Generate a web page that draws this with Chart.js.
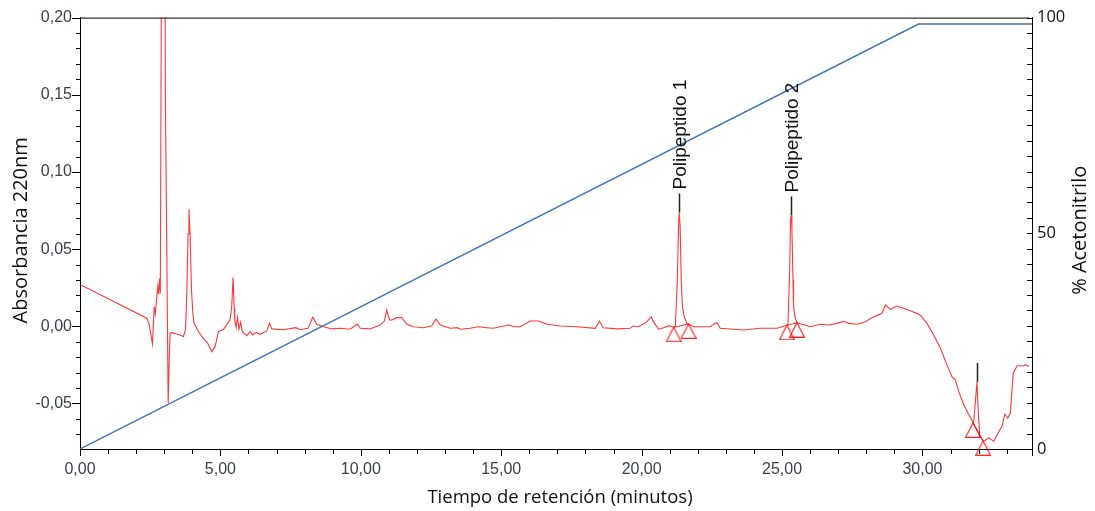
<!DOCTYPE html>
<html lang="es">
<head>
<meta charset="UTF-8">
<title>Cromatograma HPLC</title>
<script src="https://cdn.jsdelivr.net/npm/chart.js"></script>
<style>
  html, body { margin: 0; padding: 0; background: #fff; }
  #wrap { width: 1095px; height: 511px; position: relative; }
</style>
</head>
<body>
<div id="wrap"><canvas id="chart"></canvas></div>
<script>
// trace (minutes, AU)
const retentionTimes = [
  0.00, 2.38, 2.47, 2.53, 2.58, 2.62, 2.64, 2.68, 2.77, 2.80, 2.83, 2.86,
  2.97, 3.04, 3.14, 3.18, 3.21, 3.27, 3.44, 3.60, 3.68, 3.76, 3.80, 3.85,
  3.88, 3.92, 3.97, 4.02, 4.06, 4.22, 4.39, 4.55, 4.69, 4.81, 4.93, 5.11,
  5.34, 5.40, 5.45, 5.49, 5.51, 5.56, 5.61, 5.66, 5.72, 5.78, 5.94, 6.06,
  6.15, 6.27, 6.41, 6.65, 6.75, 6.83, 7.24, 7.68, 7.84, 8.12, 8.29, 8.43,
  8.67, 8.97, 9.26, 9.62, 9.88, 9.98, 10.33, 10.69, 10.84, 10.92, 11.02, 11.10,
  11.28, 11.46, 11.64, 11.87, 12.23, 12.53, 12.68, 12.83, 13.18, 13.44, 13.54, 13.89,
  14.19, 14.49, 14.72, 14.96, 15.29, 15.44, 15.68, 16.03, 16.33, 16.63, 17.10, 17.69,
  18.35, 18.50, 18.63, 19.12, 19.59, 19.69, 19.89, 20.19, 20.34, 20.42, 20.60, 20.78,
  20.96, 21.14, 21.20, 21.27, 21.32, 21.34, 21.37, 21.41, 21.45, 21.52, 21.61, 21.85,
  22.44, 22.62, 22.68, 22.80, 23.63, 24.22, 24.82, 25.12, 25.21, 25.27, 25.30, 25.32,
  25.35, 25.39, 25.41, 25.46, 25.53, 26.01, 26.36, 26.66, 26.96, 27.19, 27.37, 27.67,
  27.97, 28.20, 28.56, 28.68, 28.86, 29.09, 29.27, 29.57, 29.92, 30.16, 30.46, 30.64,
  30.87, 31.05, 31.17, 31.29, 31.47, 31.65, 31.82, 31.88, 31.94, 32.00, 32.04, 32.18,
  32.36, 32.54, 32.72, 32.83, 32.93, 33.04, 33.13, 33.23, 33.37, 33.61, 33.67, 33.79
];
const absorbance = [
  0.0271, 0.0052, 0.0008, -0.0060, -0.0114, 0.0040, 0.0127, 0.0080, 0.0256, 0.0210, 0.0310, 0.0213,
  0.6000, 0.1500, -0.0497, -0.0200, -0.0045, -0.0041, -0.0050, -0.0060, -0.0067, -0.0020, 0.0200, 0.0600,
  0.0758, 0.0600, 0.0235, 0.0080, 0.0019, -0.0035, -0.0078, -0.0110, -0.0164, -0.0132, -0.0035, -0.0019,
  0.0041, 0.0120, 0.0316, 0.0120, 0.0040, -0.0006, 0.0058, -0.0019, 0.0026, -0.0035, -0.0061, -0.0035,
  -0.0056, -0.0039, -0.0052, -0.0030, 0.0019, -0.0017, -0.0022, -0.0009, -0.0022, -0.0013, 0.0058, 0.0013,
  -0.0003, -0.0017, -0.0013, -0.0019, 0.0015, -0.0013, -0.0017, 0.0008, 0.0034, 0.0105, 0.0041, 0.0041,
  0.0056, 0.0056, 0.0013, -0.0003, -0.0009, 0.0004, 0.0047, 0.0008, -0.0013, -0.0009, -0.0019, -0.0013,
  -0.0003, -0.0009, -0.0013, -0.0003, 0.0008, -0.0003, -0.0003, 0.0034, 0.0034, 0.0013, 0.0002, -0.0003,
  -0.0013, 0.0034, -0.0009, -0.0017, -0.0013, 0.0002, -0.0003, 0.0030, 0.0062, 0.0030, -0.0019, -0.0009,
  0.0004, -0.0006, 0.0000, 0.0300, 0.0680, 0.0737, 0.0650, 0.0300, 0.0130, 0.0060, 0.0020, -0.0003,
  -0.0003, 0.0019, 0.0023, -0.0013, -0.0024, -0.0013, -0.0013, 0.0004, 0.0010, 0.0350, 0.0680, 0.0718,
  0.0640, 0.0300, 0.0127, 0.0060, 0.0023, -0.0003, 0.0013, 0.0008, 0.0019, 0.0032, 0.0019, 0.0013,
  0.0030, 0.0056, 0.0084, 0.0138, 0.0110, 0.0131, 0.0120, 0.0101, 0.0073, 0.0019, -0.0078, -0.0142,
  -0.0250, -0.0326, -0.0347, -0.0422, -0.0508, -0.0573, -0.0626, -0.0500, -0.0360, -0.0600, -0.0713, -0.0745,
  -0.0723, -0.0745, -0.0681, -0.0649, -0.0569, -0.0594, -0.0562, -0.0304, -0.0256, -0.0256, -0.0248, -0.0261
];

// acetonitrile gradient (%)
const gradientTimes = [0, 29.86, 33.9];
const gradientPct = [0, 98.5, 98.5];

// integration start/end markers, in pairs
const markerTimes = [21.14, 21.67, 25.17, 25.53, 31.80, 32.16];
const markerValues = [-0.0006, 0.0015, 0.0006, 0.0023, -0.0626, -0.0742];

// labelled peaks
const peakTimes = [21.34, 25.32, 31.94];
const peakLabels = ['Polipeptido 1', 'Polipeptido 2', ''];

const xMajorTicks = [0, 5, 10, 15, 20, 25, 30];
const yMajorTicks = [-0.05, 0, 0.05, 0.10, 0.15, 0.20];
const y2MajorTicks = [0, 50, 100];

const xTitle = 'Tiempo de retención (minutos)';
const yTitle = 'Absorbancia 220nm';
const y2Title = '% Acetonitrilo';

const TICK_FONT = { family: '"Liberation Sans", Arial, sans-serif', size: 16 };
const TICK_COLOR = '#3a3f4a';

const comma = v => v.toFixed(2).replace('.', ',');
const near = (list, v, eps) => list.some(m => Math.abs(m - v) < eps);

// triangle marker image, apex at the centre of the canvas
function triangleImage() {
  const c = document.createElement('canvas');
  c.width = 16; c.height = 30;
  const g = c.getContext('2d');
  g.strokeStyle = 'rgba(255,0,0,0.85)';
  g.lineWidth = 1.2;
  g.beginPath();
  g.moveTo(8, 15);
  g.lineTo(15.4, 29.3);
  g.lineTo(0.6, 29.3);
  g.closePath();
  g.stroke();
  return c;
}

const traceData = retentionTimes.map((t, i) => ({ x: t, y: absorbance[i] }));
const gradientData = gradientTimes.map((t, i) => ({ x: t, y: gradientPct[i] }));
const markerData = [];
for (let i = 0; i < markerTimes.length; i += 2) {
  if (i > 0) markerData.push({ x: markerTimes[i] - 0.01, y: null });
  markerData.push({ x: markerTimes[i], y: markerValues[i] });
  markerData.push({ x: markerTimes[i + 1], y: markerValues[i + 1] });
}

const frame = {
  id: 'frame',
  afterDraw(chart) {
    const { ctx, chartArea: a } = chart;
    const { x, y, y2 } = chart.scales;
    ctx.save();
    ctx.strokeStyle = '#000';
    ctx.lineWidth = 1;
    ctx.beginPath();
    ctx.moveTo(a.left, a.top + 0.5);
    ctx.lineTo(a.right - 3, a.top + 0.5);
    ctx.moveTo(a.right + 0.5, a.bottom);
    ctx.lineTo(a.right + 0.5, a.bottom + 7);
    y.ticks.forEach(t => {
      const py = Math.round(y.getPixelForValue(t.value)) + 0.5;
      const len = near(yMajorTicks, t.value, 1e-6) ? 8 : 4;
      ctx.moveTo(a.left - len, py);
      ctx.lineTo(a.left, py);
    });
    x.ticks.forEach(t => {
      const px = Math.round(x.getPixelForValue(t.value)) + 0.5;
      const len = near(xMajorTicks, t.value, 1e-6) ? 7 : 5;
      ctx.moveTo(px, a.bottom);
      ctx.lineTo(px, a.bottom + len);
    });
    y2.ticks.forEach(t => {
      const py = Math.round(y2.getPixelForValue(t.value)) + 0.5;
      ctx.moveTo(a.right - 5, py);
      ctx.lineTo(a.right, py);
    });
    ctx.stroke();

    // axis titles
    ctx.fillStyle = '#111';
    ctx.textAlign = 'center';
    ctx.textBaseline = 'middle';
    const cy = (a.top + a.bottom) / 2 - 3;
    ctx.font = '18.5px "Open Sans", sans-serif';
    ctx.fillText(xTitle, (a.left + a.right) / 2 + 4, a.bottom + 49);
    ctx.font = '20px "Open Sans", sans-serif';
    ctx.save();
    ctx.translate(21, cy);
    ctx.rotate(-Math.PI / 2);
    ctx.fillText(yTitle, 0, 0);
    ctx.restore();
    ctx.save();
    ctx.translate(a.right + 48, cy);
    ctx.rotate(-Math.PI / 2);
    ctx.fillText(y2Title, 0, 0);
    ctx.restore();

    // peak labels
    peakTimes.forEach((t, i) => {
      const idx = retentionTimes.indexOf(t);
      const px = Math.round(x.getPixelForValue(t)) + 0.5;
      const py = y.getPixelForValue(absorbance[idx]);
      ctx.strokeStyle = '#222';
      ctx.lineWidth = 1.5;
      ctx.beginPath();
      ctx.moveTo(px, py);
      ctx.lineTo(px, py - 19);
      ctx.stroke();
      if (peakLabels[i]) {
        ctx.save();
        ctx.translate(px, py - 23);
        ctx.rotate(-Math.PI / 2);
        ctx.font = '19px "Liberation Sans", Arial, sans-serif';
        ctx.textAlign = 'left';
        ctx.textBaseline = 'middle';
        ctx.fillStyle = '#111';
        ctx.fillText(peakLabels[i], 0, 1);
        ctx.restore();
      }
    });
    ctx.restore();
  }
};

new Chart(document.getElementById('chart'), {
  type: 'line',
  data: {
    datasets: [
      {
        label: 'Triangulos',
        data: markerData,
        borderColor: 'rgba(255,0,0,0.85)',
        borderWidth: 1,
        pointStyle: triangleImage(),
        pointRadius: 8,
        spanGaps: false,
        clip: false,
        yAxisID: 'y'
      },
      {
        label: 'Absorbancia',
        data: traceData,
        borderColor: 'rgba(255,20,20,0.85)',
        borderWidth: 1.1,
        pointRadius: 0,
        tension: 0,
        yAxisID: 'y'
      },
      {
        label: '% Acetonitrilo',
        data: gradientData,
        borderColor: '#3f74b8',
        borderWidth: 1.4,
        pointRadius: 0,
        tension: 0,
        yAxisID: 'y2'
      }
    ]
  },
  options: {
    responsive: true,
    maintainAspectRatio: false,
    animation: false,
    devicePixelRatio: 1,
    layout: { padding: { top: 16, left: 0, right: 0, bottom: 0 } },
    plugins: { legend: { display: false }, tooltip: { enabled: false } },
    scales: {
      x: {
        type: 'linear',
        min: 0,
        max: 33.9,
        afterBuildTicks: s => {
          const ticks = [];
          for (let m = 0; m <= 33; m++) ticks.push({ value: m });
          s.ticks = ticks;
        },
        afterFit: s => { s.height = 62; },
        grid: { display: true, drawOnChartArea: false, drawTicks: false },
        border: { display: true, color: '#000', width: 1 },
        ticks: {
          autoSkip: false,
          maxRotation: 0,
          padding: 11,
          color: TICK_COLOR,
          font: TICK_FONT,
          callback: v => near(xMajorTicks, v, 1e-6) ? comma(v) : ''
        }
      },
      y: {
        type: 'linear',
        position: 'left',
        min: -0.0795,
        max: 0.20,
        afterBuildTicks: s => {
          const ticks = [];
          for (let i = -7; i <= 20; i++) ticks.push({ value: i / 100 });
          s.ticks = ticks;
        },
        afterFit: s => { s.width = 80; },
        grid: { display: true, drawOnChartArea: false, drawTicks: false },
        border: { display: true, color: '#000', width: 1 },
        ticks: {
          autoSkip: false,
          padding: 8,
          color: TICK_COLOR,
          font: TICK_FONT,
          callback: v => near(yMajorTicks, v, 1e-6) ? comma(v) : ''
        }
      },
      y2: {
        type: 'linear',
        position: 'right',
        min: 0,
        max: 100,
        afterBuildTicks: s => {
          const ticks = [];
          for (let i = 0; i <= 28; i++) ticks.push({ value: i * 100 / 28 });
          s.ticks = ticks;
        },
        afterFit: s => { s.width = 63; },
        grid: { display: true, drawOnChartArea: false, drawTicks: false },
        border: { display: true, color: '#000', width: 1 },
        ticks: {
          autoSkip: false,
          padding: 5,
          color: '#111',
          font: { family: '"Open Sans", sans-serif', size: 16.5 },
          callback: v => near(y2MajorTicks, v, 1e-6) ? String(Math.round(v)) : ''
        }
      }
    }
  },
  plugins: [frame]
});
</script>
</body>
</html>
